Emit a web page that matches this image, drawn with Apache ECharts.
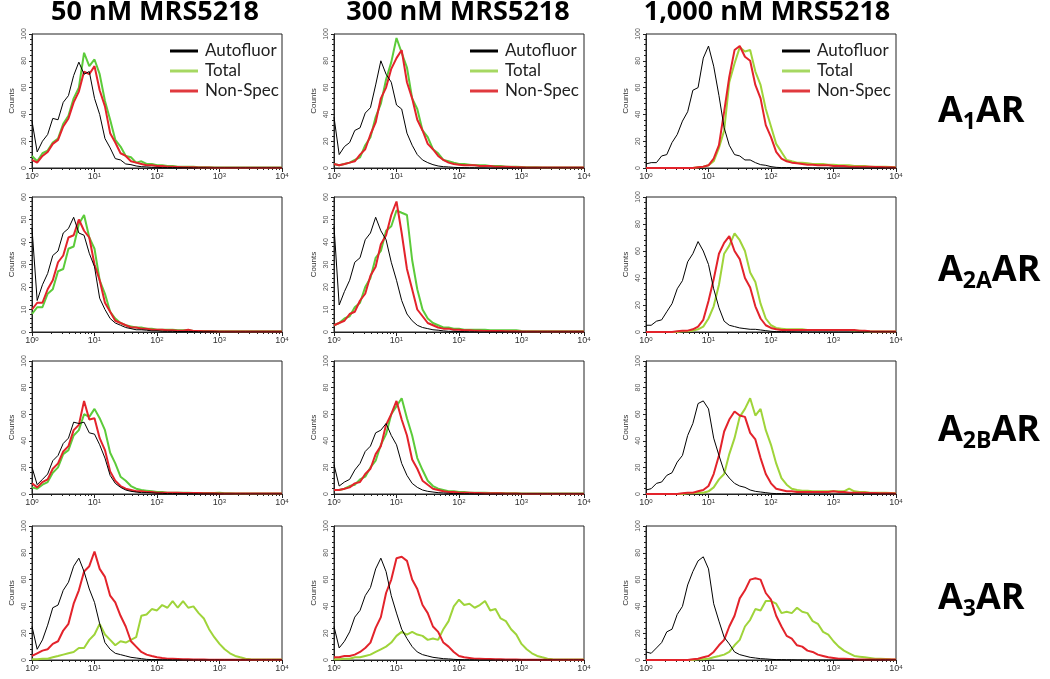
<!DOCTYPE html>
<html><head><meta charset="utf-8">
<script src="https://cdn.jsdelivr.net/npm/echarts@6/dist/echarts.min.js"></script>
<style>html,body{margin:0;padding:0;background:#fff}#c{width:1050px;height:679px}</style>
</head><body><div id="c"></div>
<script>
// Fluorescence channels (log spaced, 12 per decade)
const X = [1,1.21,1.47,1.78,2.15,2.61,3.16,3.83,4.64,5.62,6.81,8.25,
 10,12.1,14.7,17.8,21.5,26.1,31.6,38.3,46.4,56.2,68.1,82.5,
 100,121,147,178,215,261,316,383,464,562,681,825,
 1000,1210,1470,1780,2150,2610,3160,3830,4640,5620,6810,8250,10000];

const colTitles = ['50 nM MRS5218','300 nM MRS5218','1,000 nM MRS5218'];
const rowSubs = ['1','2A','2B','3'];
const seriesNames = ['Autofluor','Total','Non-Spec'];
const yMaxes = [[100,100,100],[60,60,100],[100,100,100],[100,100,100]];

// ---- A1AR ----
const af_50_A1 = [35,12,20,25,37,36,49,54,69,79,70,72, 52,40,22,15,7,6,3,2.5,1.5,1,0.8,0.5, 0.5,0.3,0.3,0.3,0.2,0.2,0.2,0.1,0.1,0.1,0,0, 0,0,0,0,0,0,0,0,0,0,0,0, 0];
const tot_50_A1 = [9,5,11,13,19,22,33,39,52,60,86,76, 81,70,50,36,21,16,9,8,4,5,3,3, 2,2,1.5,1.5,1,1,1,1,0.6,0.5,0.5,0.3, 0.3,0.3,0.3,0.3,0.3,0.3,0.3,0.3,0.3,0.3,0.3,0.3, 0.3];
const ns_50_A1 = [6,4,9,12,18,21,31,37,49,57,72,70, 76,58,46,26,19,11,9,5,4,3,2,2, 1.5,1.5,1,1,0.8,0.6,0.5,0.5,0.3,0.3,0.3,0.2, 0.2,0.2,0.2,0.2,0.2,0.2,0.2,0.2,0.2,0.2,0.2,0.2, 0.2];

const af_300_A1 = [38,10,16,19,28,30,41,45,62,80,70,64, 47,44,26,17,10,6,4,2.5,1.5,1,0.8,0.5, 0.3,0.3,0.2,0.2,0.1,0.1,0,0,0,0,0,0, 0,0,0,0,0,0,0,0,0,0,0,0, 0];
const tot_300_A1 = [3,2,3,4,6,8,17,23,38,48,66,79, 97,86,75,52,44,28,23,14,11,6,5,4, 3,3,2.5,2,2,2,1.5,1.5,1.5,1,1,1, 0.8,0.5,0.5,0.5,0.3,0.3,0.3,0.3,0.3,0.3,0.3,0.3, 0.3];
const ns_300_A1 = [3,2,3,4,5,10,14,25,34,52,60,74, 82,88,64,52,36,28,18,14,9,6,4,3, 2.5,2,2,2,1.5,1.5,1.5,1,1,1,0.8,0.6, 0.5,0.3,0.3,0.3,0.3,0.3,0.3,0.3,0.3,0.3,0.3,0.3, 0.3];

const af_1000_A1 = [3,4,4,9,10,19,25,35,42,58,60,82, 91,76,54,30,17,10,9,6,6,4,2.5,2, 1,0.5,0.3,0.3,0.3,0.2,0.2,0.2,0.1,0.1,0,0, 0,0,0,0,0,0,0,0,0,0,0,0, 0];
const tot_1000_A1 = [0,0,0,0,0,0,0,0,0,0,0.5,1, 2,5,15,28,64,78,90,87,88,72,62,44, 31,18,12,6,5,4,4,3.5,3,3,3,2.5, 2.5,2,2,2,1.5,1.5,1.5,1,1,1,1,0.8, 0.5];
const ns_1000_A1 = [0,0,0,0,0,0,0,0,0,0,0.5,1, 2,7,17,42,68,88,91,83,80,62,52,32, 23,12,7,5,4,3.5,3,2.5,2.5,2,2,2, 1.5,1.5,1.5,1,1,1,1,1,0.8,0.8,0.5,0.5, 0.3];

// ---- A2AAR ----
const af_50_A2A = [46,14,21,26,34,36,44,46,51,44,43,35, 29,15,10,6,4,3,2,1.5,1,1,0.8,0.5, 0.5,0.3,0.3,0.3,0.2,0.2,0.2,0.2,0.1,0.1,0.1,0.1, 0,0,0,0,0,0,0,0,0,0,0,0, 0];
const tot_50_A2A = [8,11,11,17,19,27,28,37,38,48,52,42, 37,23,17,9,6,4,3,2.5,2,2,1.5,1.5, 1,1,1,1,0.8,0.8,0.8,0.5,0.5,0.5,0.5,0.3, 0.3,0.3,0.3,0.3,0.3,0.3,0.3,0.3,0.3,0.3,0.3,0.3, 0.3];
const ns_50_A2A = [10,13,13,19,23,31,34,42,43,50,45,42, 30,23,13,9,5,4,3,2,2,1.5,1.5,1, 1,1,0.8,0.8,0.6,0.6,1,0.5,0.5,0.3,0.3,0.3, 0.2,0.2,0.2,0.2,0.2,0.2,0.2,0.2,0.2,0.2,0.2,0.2, 0.2];

const af_300_A2A = [47,12,18,23,31,33,41,44,51,45,41,31, 23,14,8,5,3,2,1.5,1,0.8,0.5,0.3,0.3, 0.2,0.2,0.1,0.1,0,0,0,0,0,0,0,0, 0,0,0,0,0,0,0,0,0,0,0,0, 0];
const tot_300_A2A = [3,4,6,7,11,13,20,24,33,36,45,47, 54,53,52,32,19,10,6,4,3,2,2,1.5, 1.5,1,1,1,1,1,0.8,0.8,0.8,0.8,0.8,0.8, 0.5,0.3,0.3,0.3,0.3,0.3,0.3,0.3,0.3,0.3,0.3,0.3, 0.3];
const ns_300_A2A = [3,4,5,8,9,14,17,25,29,39,43,52, 58,44,28,19,10,7,4,3,2,1.5,1.5,1, 1,0.8,0.8,0.6,0.6,0.5,0.5,0.5,0.5,0.3,0.3,0.3, 0.2,0.2,0.2,0.2,0.2,0.2,0.2,0.2,0.2,0.2,0.2,0.2, 0.2];

const af_1000_A2A = [5,5,8,9,15,21,32,38,52,58,67,60, 50,32,18,8,5,4,3,2.5,2,2,1.5,1, 0.5,0.3,0.3,0.2,0.2,0.1,0.1,0,0,0,0,0, 0,0,0,0,0,0,0,0,0,0,0,0, 0];
const tot_1000_A2A = [0,0,0,0,0,0,0,0.5,0.5,1,2,4, 10,19,35,58,64,73,68,60,44,37,21,10, 5,3,2.5,2,2,2,2,1.5,1.5,1.5,1.5,1.5, 1.5,1.5,1.5,1.5,1,1,0.5,0.3,0.3,0.3,0.3,0.3, 0.3];
const ns_1000_A2A = [0,0,0,0,0,0,0.5,1,1,2,4,9, 23,39,58,66,71,60,54,40,33,19,10,5, 3,2,1.5,1.5,1.5,1.5,1.5,1.5,1.5,1.5,1.5,1.5, 1.5,1.5,1.5,1.5,1.5,1,1,0.5,0.3,0.3,0.3,0.3, 0.3];

// ---- A2BAR ----
const af_50_A2B = [20,7,11,15,25,29,38,42,54,53,54,46, 45,37,27,14,8,5,3,2,1.5,1,1,0.8, 0.6,0.5,0.3,0.3,0.3,0.2,0.2,0.2,0.1,0.1,0.1,0.1, 0,0,0,0,0,0,0,0,0,0,0,0, 0];
const tot_50_A2B = [5,4,7,9,16,20,30,33,44,48,60,58, 64,57,48,31,23,13,10,6,4,3,2.5,2, 1.5,1.5,1,1,1,1,1,0.8,0.8,0.8,0.8,0.8, 1,0.5,0.5,0.3,0.3,0.3,0.3,0.3,0.3,0.3,0.3,0.3, 0.3];
const ns_50_A2B = [8,5,9,11,19,23,32,36,48,52,70,56, 57,42,33,17,10,6,4,3,2,2,1.5,1.5, 1,1,1,1,1,0.8,0.8,0.8,0.8,0.5,0.5,0.5, 0.3,0.3,0.3,0.3,0.3,0.3,0.3,0.3,0.3,0.3,0.3,0.3, 0.3];

const af_300_A2B = [22,6,9,11,18,23,32,36,46,48,53,44, 37,23,14,8,5,3,2,1.5,1,0.8,0.5,0.3, 0.3,0.2,0.2,0.1,0.1,0,0,0,0,0,0,0, 0,0,0,0,0,0,0,0,0,0,0,0, 0];
const tot_300_A2B = [3,3,4,6,7,11,13,20,25,37,45,60, 66,72,57,44,27,18,10,6,4,3,2,2, 1.5,1.5,1,1,1,1,0.8,0.8,0.8,0.5,0.5,0.5, 0.3,0.3,0.3,0.3,0.3,0.3,0.3,0.3,0.3,0.3,0.3,0.3, 0.3];
const ns_300_A2B = [3,3,4,5,8,9,15,19,30,36,52,60, 70,56,44,26,19,10,7,4,3,2,1.5,1.5, 1,1,1,0.8,0.8,0.6,0.5,0.5,0.5,0.3,0.3,0.3, 0.2,0.2,0.2,0.2,0.2,0.2,0.2,0.2,0.2,0.2,0.2,0.2, 0.2];

const af_1000_A2B = [3,4,8,9,14,16,24,29,44,53,68,70, 64,42,29,17,12,8,6,5,3,2,1.5,1, 0.5,0.3,0.3,0.2,0.2,0.1,0.1,0,0,0,0,0, 0,0,0,0,0,0,0,0,0,0,0,0, 0];
const tot_1000_A2B = [0,0,0,0,0,0,0,0,0.5,0.5,1,1, 2,5,11,15,30,42,58,64,72,59,64,48, 37,23,12,7,4,3,2.5,2.5,2,2,2,2, 2,2,2,4,2,1.5,1.5,1,1,1,1,0.8, 0.5];
const ns_1000_A2B = [0,0,0,0,0,0,0,0.5,1,1,2,3, 6,15,29,47,56,62,59,58,46,41,27,15, 8,4,3,2,2,1.5,1.5,1.5,1.5,1.5,1.5,1.5, 2,1.5,1.5,1,1,1,1,0.8,0.8,0.5,0.5,0.5, 0.3];

// ---- A3AR ----
const af_50_A3 = [25,8,15,26,39,41,52,58,70,76,66,53, 43,27,13,8,5,4,3,2,1.5,1,0.5,0.3, 0.3,0.2,0.2,0.1,0.1,0,0,0,0,0,0,0, 0,0,0,0,0,0,0,0,0,0,0,0, 0];
const tot_50_A3 = [0.5,0.5,1,1,2,3,4,5,6,9,9,15, 19,27,19,15,11,14,13,15,17,33,34,38, 37,41,39,44,39,44,39,40,35,31,23,17, 12,8,5,3,2,1,0.5,0.3,0.3,0.3,0.3,0.3, 0.3];
const ns_50_A3 = [3,5,7,8,12,14,22,27,42,52,66,70, 81,68,62,48,43,33,25,14,10,6,4,3, 2,1.5,1,1,0.8,0.5,0.5,0.3,0.3,0.3,0.2,0.2, 0.2,0.2,0.2,0.2,0.2,0.2,0.2,0.2,0.2,0.2,0.2,0.2, 0.2];

const af_300_A3 = [25,9,14,21,32,37,48,54,68,76,66,48, 35,23,16,10,6,4,3,2,1.5,1,0.8,0.5, 0.3,0.2,0.2,0.1,0,0,0,0,0,0,0,0, 0,0,0,0,0,0,0,0,0,0,0,0, 0];
const tot_300_A3 = [0.5,0.5,1,1,2,2,3,4,6,8,10,13, 18,21,19,21,19,18,15,16,15,23,29,40, 45,41,42,39,41,44,37,38,31,29,23,19, 12,8,5,3,2,1,0.5,0.3,0.3,0.3,0.3,0.3, 0.3];
const ns_300_A3 = [2,2,3,3,4,6,9,13,24,32,50,60, 76,77,74,60,53,41,35,25,21,13,10,6, 3,2,1.5,1,1,0.8,0.8,0.5,0.5,0.3,0.3,0.3, 0.2,0.2,0.2,0.2,0.2,0.2,0.2,0.2,0.2,0.2,0.2,0.2, 0.2];

const af_1000_A3 = [6,5,9,13,21,23,34,40,56,66,74,77, 68,42,29,17,12,6,4,3,2,1.5,1,0.8, 0.5,0.3,0.3,0.2,0.2,0.1,0.1,0,0,0,0,0, 0,0,0,0,0,0,0,0,0,0,0,0, 0];
const tot_1000_A3 = [0,0,0,0,0,0,0,0,0,0,0.5,0.5, 1,2,3,4,6,11,15,25,30,38,37,44, 44,42,35,36,35,39,36,35,29,27,21,19, 14,10,7,5,3,2.5,2,1.5,1,1,0.8,0.5, 0.3];
const ns_1000_A3 = [0,0,0,0,0,0,0,0,0,0.5,1,2, 3,6,11,15,25,33,46,52,60,61,60,50, 45,33,25,18,16,11,10,7,6,4,3,2, 1.5,1,1,0.8,0.5,0.3,0.3,0.3,0.3,0.3,0.3,0.3, 0.3];

const panels = [
  [[af_50_A1,tot_50_A1,ns_50_A1],[af_300_A1,tot_300_A1,ns_300_A1],[af_1000_A1,tot_1000_A1,ns_1000_A1]],
  [[af_50_A2A,tot_50_A2A,ns_50_A2A],[af_300_A2A,tot_300_A2A,ns_300_A2A],[af_1000_A2A,tot_1000_A2A,ns_1000_A2A]],
  [[af_50_A2B,tot_50_A2B,ns_50_A2B],[af_300_A2B,tot_300_A2B,ns_300_A2B],[af_1000_A2B,tot_1000_A2B,ns_1000_A2B]],
  [[af_50_A3,tot_50_A3,ns_50_A3],[af_300_A3,tot_300_A3,ns_300_A3],[af_1000_A3,tot_1000_A3,ns_1000_A3]]
];

// layout
const colLeft = [32,334,646], colW = [250,250,250];
const rowTop = [34,197,361,526], rowH = [134,135,133,134];
const titleX = [155,458,767];
const rowLabelY = [112,271,431,599];
const legendLeft = [165,465,777];

const greenA = '#5ccb3a', greenB = '#9fd43a', red = '#e3232b';

const grids=[], xAxes=[], yAxes=[], series=[];
for (let r=0;r<4;r++) for (let c=0;c<3;c++) {
  const idx = r*3+c;
  const ymax = yMaxes[r][c];
  grids.push({left:colLeft[c], top:rowTop[r], width:colW[c], height:rowH[r], show:true,
    borderColor:'#222', borderWidth:1, backgroundColor:'rgba(0,0,0,0)'});
  xAxes.push({type:'log', logBase:10, min:1, max:10000, gridIndex:idx,
    axisLine:{show:true, lineStyle:{color:'#222', width:1}},
    axisTick:{show:true, inside:false, length:4, lineStyle:{color:'#222'}},
    minorTick:{show:true, splitNumber:9, length:2, lineStyle:{color:'#222'}},
    splitLine:{show:false},
    axisLabel:{fontSize:9, color:'#333', margin:4, fontFamily:'Liberation Sans',
      formatter: v => '10{s|' + Math.round(Math.log10(v)) + '}',
      rich:{s:{fontSize:6, verticalAlign:'top', color:'#333', fontFamily:'Liberation Sans'}}}});
  yAxes.push({type:'value', min:0, max:ymax, interval: ymax===60?10:20, gridIndex:idx,
    name:'Counts', nameLocation:'middle', nameGap:16,
    nameTextStyle:{fontSize:8, color:'#333', fontFamily:'Liberation Sans'},
    axisLine:{show:true, lineStyle:{color:'#222', width:1}},
    axisTick:{show:true, inside:false, length:3, lineStyle:{color:'#222'}},
    minorTick:{show:true, splitNumber:5, length:2, lineStyle:{color:'#222'}},
    splitLine:{show:false},
    axisLabel:{rotate:90, fontSize:7, color:'#555', margin:4, fontFamily:'Liberation Sans'}});
  const sets = panels[r][c];
  const g = (r===3 || c===2) ? greenB : greenA;
  const styles = [
    {name:seriesNames[0], color:'#000', width:1, z:4},
    {name:seriesNames[1], color:g, width:2, z:2},
    {name:seriesNames[2], color:red, width:2, z:3}
  ];
  styles.forEach((s,k) => {
    series.push({type:'line', name:s.name, xAxisIndex:idx, yAxisIndex:idx,
      data: X.map((x,i) => [x, sets[k][i]]),
      symbol:'none', showSymbol:false, smooth:false,
      lineStyle:{color:s.color, width:s.width}, itemStyle:{color:s.color},
      z:s.z, animation:false, silent:true});
  });
}

const legends = legendLeft.map(l => ({
  data:[{name:'Autofluor', itemStyle:{color:'#000'}},
        {name:'Total', itemStyle:{color:'#a6d862'}},
        {name:'Non-Spec', itemStyle:{color:'#e0393e'}}],
  orient:'vertical', left:l, top:37, icon:'rect', itemWidth:28, itemHeight:3, itemGap:2,
  selectedMode:false,
  textStyle:{fontSize:17, fontFamily:'Lato', color:'#222', lineHeight:18, padding:[0,0,0,2]}
}));

const graphics = [];
colTitles.forEach((t,c) => graphics.push({type:'text', x:titleX[c], y:12,
  style:{text:t, fontSize:27, fontWeight:'bold', fontFamily:'Open Sans', fill:'#000',
    textAlign:'center', textVerticalAlign:'middle'}}));
rowSubs.forEach((s,r) => graphics.push({type:'text', x:938, y:rowLabelY[r],
  style:{text:'{a|A}{b|'+s+'}{a|AR}', textAlign:'left', textVerticalAlign:'middle',
    rich:{a:{fontSize:36, fontWeight:'bold', fontFamily:'Open Sans', fill:'#000', lineHeight:44},
          b:{fontSize:23, fontWeight:'bold', fontFamily:'Open Sans', fill:'#000', lineHeight:25, verticalAlign:'bottom'}}}}));

const chart = echarts.init(document.getElementById('c'), null, {renderer:'canvas'});
chart.setOption({
  animation:false,
  backgroundColor:'#fff',
  grid:grids, xAxis:xAxes, yAxis:yAxes, series:series,
  legend:legends, graphic:graphics
});
</script></body></html>
